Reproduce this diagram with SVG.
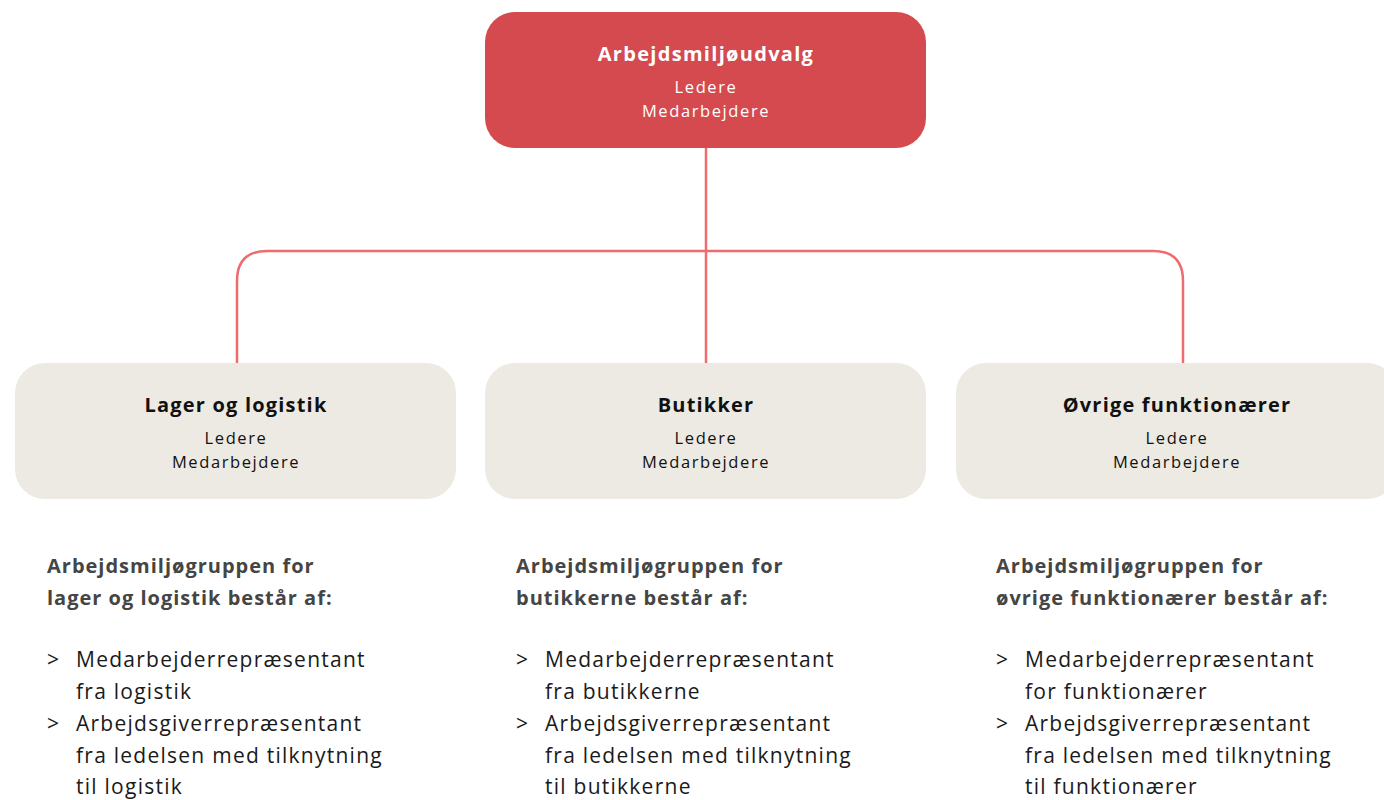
<svg xmlns="http://www.w3.org/2000/svg" width="1384" height="800" viewBox="0 0 1384 800">
<style>
.top{fill:#D54A4E}
.box{fill:#EDEAE3}
.con{fill:none;stroke:#EE6B6E;stroke-width:2.5}
text{font-family:"Open Sans",Lato,sans-serif}
.t1{font-size:20px;font-weight:700;fill:#fff;text-anchor:middle;letter-spacing:1.3px}
.s1{font-size:16.5px;fill:#fff;text-anchor:middle;letter-spacing:1.6px}
.t2{font-size:20px;font-weight:700;fill:#111;text-anchor:middle;letter-spacing:1.2px}
.s2{font-size:16.5px;fill:#111;text-anchor:middle;letter-spacing:1.6px}
.h{font-size:20px;font-weight:700;fill:#454545;letter-spacing:1px}
.b{font-size:21px;fill:#1a1a1a;letter-spacing:1.25px}
</style>
<rect width="1384" height="800" fill="#fff"/>
<g id="connectors">
<path class="con" d="M706 148 V363"/>
<path class="con" d="M237 363 V281 Q237 251 267 251 H1153 Q1183 251 1183 281 V363"/>
</g>
<g id="n-top">
<rect class="top" x="485" y="12" width="441" height="136" rx="30"/>
<text class="t1" x="706" y="61">Arbejdsmiljøudvalg</text>
<text class="s1" x="706" y="93">Ledere</text>
<text class="s1" x="706" y="117">Medarbejdere</text>
</g>
<g id="n-lager">
<rect class="box" x="15" y="363" width="441" height="136" rx="30"/>
<text class="t2" x="236" y="412">Lager og logistik</text>
<text class="s2" x="236" y="444">Ledere</text>
<text class="s2" x="236" y="468">Medarbejdere</text>
</g>
<g id="n-butik">
<rect class="box" x="485" y="363" width="441" height="136" rx="30"/>
<text class="t2" x="706" y="412">Butikker</text>
<text class="s2" x="706" y="444">Ledere</text>
<text class="s2" x="706" y="468">Medarbejdere</text>
</g>
<g id="n-ovrige">
<rect class="box" x="956" y="363" width="441" height="136" rx="30"/>
<text class="t2" x="1177" y="412">Øvrige funktionærer</text>
<text class="s2" x="1177" y="444">Ledere</text>
<text class="s2" x="1177" y="468">Medarbejdere</text>
</g>
<g id="txt-lager">
<text class="h" x="47" y="573">Arbejdsmiljøgruppen for</text>
<text class="h" x="47" y="605">lager og logistik består af:</text>
<text class="b" x="47" y="667">&gt;</text>
<text class="b" x="76" y="667">Medarbejderrepræsentant</text>
<text class="b" x="76" y="699">fra logistik</text>
<text class="b" x="47" y="731">&gt;</text>
<text class="b" x="76" y="731">Arbejdsgiverrepræsentant</text>
<text class="b" x="76" y="763">fra ledelsen med tilknytning</text>
<text class="b" x="76" y="794">til logistik</text>
</g>
<g id="txt-butik">
<text class="h" x="516" y="573">Arbejdsmiljøgruppen for</text>
<text class="h" x="516" y="605">butikkerne består af:</text>
<text class="b" x="516" y="667">&gt;</text>
<text class="b" x="545" y="667">Medarbejderrepræsentant</text>
<text class="b" x="545" y="699">fra butikkerne</text>
<text class="b" x="516" y="731">&gt;</text>
<text class="b" x="545" y="731">Arbejdsgiverrepræsentant</text>
<text class="b" x="545" y="763">fra ledelsen med tilknytning</text>
<text class="b" x="545" y="794">til butikkerne</text>
</g>
<g id="txt-ovrige">
<text class="h" x="996" y="573">Arbejdsmiljøgruppen for</text>
<text class="h" x="996" y="605">øvrige funktionærer består af:</text>
<text class="b" x="996" y="667">&gt;</text>
<text class="b" x="1025" y="667">Medarbejderrepræsentant</text>
<text class="b" x="1025" y="699">for funktionærer</text>
<text class="b" x="996" y="731">&gt;</text>
<text class="b" x="1025" y="731">Arbejdsgiverrepræsentant</text>
<text class="b" x="1025" y="763">fra ledelsen med tilknytning</text>
<text class="b" x="1025" y="794">til funktionærer</text>
</g>
</svg>
